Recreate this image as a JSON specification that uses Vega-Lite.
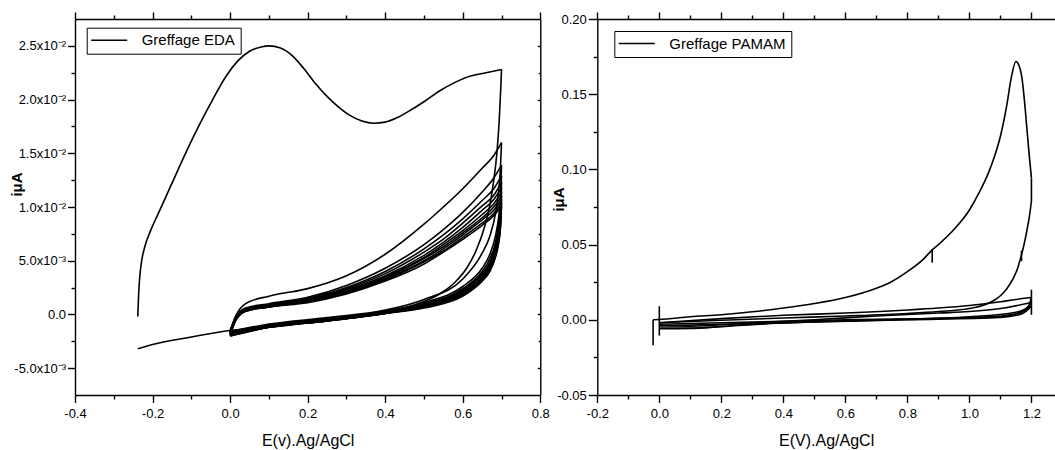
{
"$schema": "https://vega.github.io/schema/vega-lite/v6.json",
"autosize": {"type": "none"},
"width": 980, "height": 376,
"padding": {"left": 75, "top": 19, "right": 0, "bottom": 55},
"config": {
 "view": {"stroke": null},
 "font": "Liberation Sans",
 "axis": {"grid": false, "domainColor": "black", "domainWidth": 1.4, "tickColor": "black", "tickWidth": 1.4, "labelColor": "black", "labelFont": "Liberation Sans", "labelFontSize": 13, "labelPadding": 2, "titleColor": "black", "titleFont": "Liberation Sans", "titleFontSize": 16, "titleFontWeight": "normal", "labelFlush": false, "labelOverlap": false}
},
"datasets": {
"eda": [
{"s":"a1f","x":-0.238,"y":-0.0002},{"s":"a1f","x":-0.236,"y":0.0018},{"s":"a1f","x":-0.233,"y":0.0035},{"s":"a1f","x":-0.228,"y":0.0050},{"s":"a1f","x":-0.22,"y":0.0063},{"s":"a1f","x":-0.205,"y":0.0078},{"s":"a1f","x":-0.18,"y":0.0098},{"s":"a1f","x":-0.15,"y":0.0122},{"s":"a1f","x":-0.115,"y":0.0150},{"s":"a1f","x":-0.08,"y":0.0176},{"s":"a1f","x":-0.045,"y":0.0200},{"s":"a1f","x":-0.01,"y":0.0222},{"s":"a1f","x":0.02,"y":0.0236},{"s":"a1f","x":0.05,"y":0.0245},{"s":"a1f","x":0.08,"y":0.0249},{"s":"a1f","x":0.1,"y":0.0250},{"s":"a1f","x":0.13,"y":0.0248},{"s":"a1f","x":0.16,"y":0.0241},{"s":"a1f","x":0.19,"y":0.0229},{"s":"a1f","x":0.22,"y":0.0215},{"s":"a1f","x":0.25,"y":0.0203},{"s":"a1f","x":0.28,"y":0.0193},{"s":"a1f","x":0.31,"y":0.0185},{"s":"a1f","x":0.34,"y":0.0180},{"s":"a1f","x":0.37,"y":0.0178},{"s":"a1f","x":0.4,"y":0.0179},{"s":"a1f","x":0.43,"y":0.0183},{"s":"a1f","x":0.46,"y":0.0189},{"s":"a1f","x":0.5,"y":0.0198},{"s":"a1f","x":0.54,"y":0.0208},{"s":"a1f","x":0.58,"y":0.0216},{"s":"a1f","x":0.62,"y":0.0222},{"s":"a1f","x":0.66,"y":0.0225},{"s":"a1f","x":0.7,"y":0.0228},
{"s":"a1r","x":0.7,"y":0.0228},{"s":"a1r","x":0.698,"y":0.0210},{"s":"a1r","x":0.694,"y":0.0180},{"s":"a1r","x":0.688,"y":0.0150},{"s":"a1r","x":0.68,"y":0.0125},{"s":"a1r","x":0.67,"y":0.0102},{"s":"a1r","x":0.655,"y":0.0080},{"s":"a1r","x":0.635,"y":0.0060},{"s":"a1r","x":0.61,"y":0.0043},{"s":"a1r","x":0.58,"y":0.0030},{"s":"a1r","x":0.54,"y":0.0019},{"s":"a1r","x":0.5,"y":0.0012},{"s":"a1r","x":0.45,"y":0.0006},{"s":"a1r","x":0.4,"y":0.0002},{"s":"a1r","x":0.3,"y":-0.0004},{"s":"a1r","x":0.2,"y":-0.0008},{"s":"a1r","x":0.1,"y":-0.0012},{"s":"a1r","x":0.0,"y":-0.0015},{"s":"a1r","x":-0.1,"y":-0.0021},{"s":"a1r","x":-0.2,"y":-0.0028},{"s":"a1r","x":-0.238,"y":-0.0032},
{"s":"a2f","x":0,"y":-0.0015},{"s":"a2f","x":0.015,"y":-0.0001},{"s":"a2f","x":0.04,"y":0.0010},{"s":"a2f","x":0.1,"y":0.0017},{"s":"a2f","x":0.2,"y":0.0024},{"s":"a2f","x":0.3,"y":0.0036},{"s":"a2f","x":0.4,"y":0.0056},{"s":"a2f","x":0.5,"y":0.0084},{"s":"a2f","x":0.55,"y":0.0100},{"s":"a2f","x":0.6,"y":0.0117},{"s":"a2f","x":0.65,"y":0.0136},{"s":"a2f","x":0.68,"y":0.0148},{"s":"a2f","x":0.7,"y":0.0160},
{"s":"a3f","x":0,"y":-0.0016},{"s":"a3f","x":0.015,"y":-0.0002},{"s":"a3f","x":0.04,"y":0.0006},{"s":"a3f","x":0.1,"y":0.0010},{"s":"a3f","x":0.2,"y":0.0016},{"s":"a3f","x":0.3,"y":0.0027},{"s":"a3f","x":0.4,"y":0.0043},{"s":"a3f","x":0.5,"y":0.0065},{"s":"a3f","x":0.55,"y":0.0079},{"s":"a3f","x":0.6,"y":0.0095},{"s":"a3f","x":0.65,"y":0.0114},{"s":"a3f","x":0.68,"y":0.0127},{"s":"a3f","x":0.7,"y":0.0139},
{"s":"a4f","x":0,"y":-0.0016},{"s":"a4f","x":0.015,"y":-0.0003},{"s":"a4f","x":0.04,"y":0.0005},{"s":"a4f","x":0.1,"y":0.0009},{"s":"a4f","x":0.2,"y":0.0015},{"s":"a4f","x":0.3,"y":0.0025},{"s":"a4f","x":0.4,"y":0.0040},{"s":"a4f","x":0.5,"y":0.0061},{"s":"a4f","x":0.55,"y":0.0074},{"s":"a4f","x":0.6,"y":0.0089},{"s":"a4f","x":0.65,"y":0.0106},{"s":"a4f","x":0.68,"y":0.0117},{"s":"a4f","x":0.7,"y":0.0129},
{"s":"a5f","x":0,"y":-0.0017},{"s":"a5f","x":0.015,"y":-0.0003},{"s":"a5f","x":0.04,"y":0.0005},{"s":"a5f","x":0.1,"y":0.0009},{"s":"a5f","x":0.2,"y":0.0014},{"s":"a5f","x":0.3,"y":0.0024},{"s":"a5f","x":0.4,"y":0.0038},{"s":"a5f","x":0.5,"y":0.0058},{"s":"a5f","x":0.55,"y":0.0070},{"s":"a5f","x":0.6,"y":0.0085},{"s":"a5f","x":0.65,"y":0.0101},{"s":"a5f","x":0.68,"y":0.0111},{"s":"a5f","x":0.7,"y":0.0123},
{"s":"a6f","x":0,"y":-0.0017},{"s":"a6f","x":0.015,"y":-0.0004},{"s":"a6f","x":0.04,"y":0.0004},{"s":"a6f","x":0.1,"y":0.0008},{"s":"a6f","x":0.2,"y":0.0014},{"s":"a6f","x":0.3,"y":0.0023},{"s":"a6f","x":0.4,"y":0.0036},{"s":"a6f","x":0.5,"y":0.0055},{"s":"a6f","x":0.55,"y":0.0067},{"s":"a6f","x":0.6,"y":0.0081},{"s":"a6f","x":0.65,"y":0.0097},{"s":"a6f","x":0.68,"y":0.0107},{"s":"a6f","x":0.7,"y":0.0118},
{"s":"a7f","x":0,"y":-0.0018},{"s":"a7f","x":0.015,"y":-0.0004},{"s":"a7f","x":0.04,"y":0.0004},{"s":"a7f","x":0.1,"y":0.0008},{"s":"a7f","x":0.2,"y":0.0013},{"s":"a7f","x":0.3,"y":0.0022},{"s":"a7f","x":0.4,"y":0.0035},{"s":"a7f","x":0.5,"y":0.0053},{"s":"a7f","x":0.55,"y":0.0065},{"s":"a7f","x":0.6,"y":0.0078},{"s":"a7f","x":0.65,"y":0.0093},{"s":"a7f","x":0.68,"y":0.0103},{"s":"a7f","x":0.7,"y":0.0114},
{"s":"a8f","x":0,"y":-0.0018},{"s":"a8f","x":0.015,"y":-0.0004},{"s":"a8f","x":0.04,"y":0.0004},{"s":"a8f","x":0.1,"y":0.0008},{"s":"a8f","x":0.2,"y":0.0013},{"s":"a8f","x":0.3,"y":0.0021},{"s":"a8f","x":0.4,"y":0.0034},{"s":"a8f","x":0.5,"y":0.0052},{"s":"a8f","x":0.55,"y":0.0063},{"s":"a8f","x":0.6,"y":0.0076},{"s":"a8f","x":0.65,"y":0.0090},{"s":"a8f","x":0.68,"y":0.0100},{"s":"a8f","x":0.7,"y":0.0110},
{"s":"a9f","x":0,"y":-0.0019},{"s":"a9f","x":0.015,"y":-0.0005},{"s":"a9f","x":0.04,"y":0.0003},{"s":"a9f","x":0.1,"y":0.0007},{"s":"a9f","x":0.2,"y":0.0012},{"s":"a9f","x":0.3,"y":0.0020},{"s":"a9f","x":0.4,"y":0.0033},{"s":"a9f","x":0.5,"y":0.0050},{"s":"a9f","x":0.55,"y":0.0061},{"s":"a9f","x":0.6,"y":0.0074},{"s":"a9f","x":0.65,"y":0.0088},{"s":"a9f","x":0.68,"y":0.0097},{"s":"a9f","x":0.7,"y":0.0107},
{"s":"a10f","x":0,"y":-0.0019},{"s":"a10f","x":0.015,"y":-0.0005},{"s":"a10f","x":0.04,"y":0.0003},{"s":"a10f","x":0.1,"y":0.0007},{"s":"a10f","x":0.2,"y":0.0012},{"s":"a10f","x":0.3,"y":0.0020},{"s":"a10f","x":0.4,"y":0.0032},{"s":"a10f","x":0.5,"y":0.0049},{"s":"a10f","x":0.55,"y":0.0059},{"s":"a10f","x":0.6,"y":0.0072},{"s":"a10f","x":0.65,"y":0.0085},{"s":"a10f","x":0.68,"y":0.0094},{"s":"a10f","x":0.7,"y":0.0104},
{"s":"a11f","x":0,"y":-0.0020},{"s":"a11f","x":0.015,"y":-0.0005},{"s":"a11f","x":0.04,"y":0.0003},{"s":"a11f","x":0.1,"y":0.0007},{"s":"a11f","x":0.2,"y":0.0011},{"s":"a11f","x":0.3,"y":0.0019},{"s":"a11f","x":0.4,"y":0.0031},{"s":"a11f","x":0.5,"y":0.0047},{"s":"a11f","x":0.55,"y":0.0058},{"s":"a11f","x":0.6,"y":0.0070},{"s":"a11f","x":0.65,"y":0.0083},{"s":"a11f","x":0.68,"y":0.0092},{"s":"a11f","x":0.7,"y":0.0101},
{"s":"a2r","x":0.7,"y":0.0160},{"s":"a2r","x":0.697,"y":0.0135},{"s":"a2r","x":0.692,"y":0.0113},{"s":"a2r","x":0.685,"y":0.0095},{"s":"a2r","x":0.67,"y":0.0073},{"s":"a2r","x":0.65,"y":0.0057},{"s":"a2r","x":0.6,"y":0.0033},{"s":"a2r","x":0.5,"y":0.0014},{"s":"a2r","x":0.4,"y":0.0004},{"s":"a2r","x":0.25,"y":-0.0003},{"s":"a2r","x":0.1,"y":-0.0009},{"s":"a2r","x":0,"y":-0.0016},
{"s":"a3r","x":0.7,"y":0.0139},{"s":"a3r","x":0.697,"y":0.0108},{"s":"a3r","x":0.692,"y":0.0089},{"s":"a3r","x":0.685,"y":0.0074},{"s":"a3r","x":0.67,"y":0.0056},{"s":"a3r","x":0.65,"y":0.0043},{"s":"a3r","x":0.6,"y":0.0026},{"s":"a3r","x":0.5,"y":0.0011},{"s":"a3r","x":0.4,"y":0.0003},{"s":"a3r","x":0.25,"y":-0.0004},{"s":"a3r","x":0.1,"y":-0.0010},{"s":"a3r","x":0,"y":-0.0017},
{"s":"a4r","x":0.7,"y":0.0129},{"s":"a4r","x":0.697,"y":0.0101},{"s":"a4r","x":0.692,"y":0.0083},{"s":"a4r","x":0.685,"y":0.0068},{"s":"a4r","x":0.67,"y":0.0052},{"s":"a4r","x":0.65,"y":0.0040},{"s":"a4r","x":0.6,"y":0.0024},{"s":"a4r","x":0.5,"y":0.0010},{"s":"a4r","x":0.4,"y":0.0003},{"s":"a4r","x":0.25,"y":-0.0004},{"s":"a4r","x":0.1,"y":-0.0010},{"s":"a4r","x":0,"y":-0.0017},
{"s":"a5r","x":0.7,"y":0.0123},{"s":"a5r","x":0.697,"y":0.0096},{"s":"a5r","x":0.692,"y":0.0079},{"s":"a5r","x":0.685,"y":0.0065},{"s":"a5r","x":0.67,"y":0.0049},{"s":"a5r","x":0.65,"y":0.0038},{"s":"a5r","x":0.6,"y":0.0023},{"s":"a5r","x":0.5,"y":0.0009},{"s":"a5r","x":0.4,"y":0.0002},{"s":"a5r","x":0.25,"y":-0.0005},{"s":"a5r","x":0.1,"y":-0.0011},{"s":"a5r","x":0,"y":-0.0018},
{"s":"a6r","x":0.7,"y":0.0118},{"s":"a6r","x":0.697,"y":0.0092},{"s":"a6r","x":0.692,"y":0.0076},{"s":"a6r","x":0.685,"y":0.0063},{"s":"a6r","x":0.67,"y":0.0047},{"s":"a6r","x":0.65,"y":0.0037},{"s":"a6r","x":0.6,"y":0.0022},{"s":"a6r","x":0.5,"y":0.0009},{"s":"a6r","x":0.4,"y":0.0002},{"s":"a6r","x":0.25,"y":-0.0005},{"s":"a6r","x":0.1,"y":-0.0011},{"s":"a6r","x":0,"y":-0.0018},
{"s":"a7r","x":0.7,"y":0.0114},{"s":"a7r","x":0.697,"y":0.0089},{"s":"a7r","x":0.692,"y":0.0073},{"s":"a7r","x":0.685,"y":0.0060},{"s":"a7r","x":0.67,"y":0.0046},{"s":"a7r","x":0.65,"y":0.0035},{"s":"a7r","x":0.6,"y":0.0021},{"s":"a7r","x":0.5,"y":0.0008},{"s":"a7r","x":0.4,"y":0.0002},{"s":"a7r","x":0.25,"y":-0.0005},{"s":"a7r","x":0.1,"y":-0.0011},{"s":"a7r","x":0,"y":-0.0019},
{"s":"a8r","x":0.7,"y":0.0110},{"s":"a8r","x":0.697,"y":0.0086},{"s":"a8r","x":0.692,"y":0.0070},{"s":"a8r","x":0.685,"y":0.0058},{"s":"a8r","x":0.67,"y":0.0044},{"s":"a8r","x":0.65,"y":0.0034},{"s":"a8r","x":0.6,"y":0.0020},{"s":"a8r","x":0.5,"y":0.0008},{"s":"a8r","x":0.4,"y":0.0001},{"s":"a8r","x":0.25,"y":-0.0006},{"s":"a8r","x":0.1,"y":-0.0012},{"s":"a8r","x":0,"y":-0.0019},
{"s":"a9r","x":0.7,"y":0.0107},{"s":"a9r","x":0.697,"y":0.0083},{"s":"a9r","x":0.692,"y":0.0068},{"s":"a9r","x":0.685,"y":0.0057},{"s":"a9r","x":0.67,"y":0.0043},{"s":"a9r","x":0.65,"y":0.0033},{"s":"a9r","x":0.6,"y":0.0019},{"s":"a9r","x":0.5,"y":0.0007},{"s":"a9r","x":0.4,"y":0.0001},{"s":"a9r","x":0.25,"y":-0.0006},{"s":"a9r","x":0.1,"y":-0.0012},{"s":"a9r","x":0,"y":-0.0019},
{"s":"a10r","x":0.7,"y":0.0104},{"s":"a10r","x":0.697,"y":0.0081},{"s":"a10r","x":0.692,"y":0.0067},{"s":"a10r","x":0.685,"y":0.0055},{"s":"a10r","x":0.67,"y":0.0042},{"s":"a10r","x":0.65,"y":0.0032},{"s":"a10r","x":0.6,"y":0.0018},{"s":"a10r","x":0.5,"y":0.0007},{"s":"a10r","x":0.4,"y":0.0001},{"s":"a10r","x":0.25,"y":-0.0006},{"s":"a10r","x":0.1,"y":-0.0012},{"s":"a10r","x":0,"y":-0.0020},
{"s":"a11r","x":0.7,"y":0.0101},{"s":"a11r","x":0.697,"y":0.0079},{"s":"a11r","x":0.692,"y":0.0065},{"s":"a11r","x":0.685,"y":0.0054},{"s":"a11r","x":0.67,"y":0.0040},{"s":"a11r","x":0.65,"y":0.0031},{"s":"a11r","x":0.6,"y":0.0017},{"s":"a11r","x":0.5,"y":0.0006},{"s":"a11r","x":0.4,"y":0.0001},{"s":"a11r","x":0.25,"y":-0.0006},{"s":"a11r","x":0.1,"y":-0.0012},{"s":"a11r","x":0,"y":-0.0020}
],
"pam": [
{"s":"b1f","x":-0.02,"y":0.0},{"s":"b1f","x":0,"y":0.0002},{"s":"b1f","x":0.1,"y":0.002},{"s":"b1f","x":0.2,"y":0.0034},{"s":"b1f","x":0.3,"y":0.0053},{"s":"b1f","x":0.4,"y":0.0078},{"s":"b1f","x":0.5,"y":0.0108},{"s":"b1f","x":0.6,"y":0.0148},{"s":"b1f","x":0.7,"y":0.021},{"s":"b1f","x":0.75,"y":0.0255},{"s":"b1f","x":0.8,"y":0.032},{"s":"b1f","x":0.85,"y":0.040},{"s":"b1f","x":0.88,"y":0.0465},{"s":"b1f","x":0.9,"y":0.050},{"s":"b1f","x":0.95,"y":0.060},{"s":"b1f","x":1.0,"y":0.073},{"s":"b1f","x":1.03,"y":0.084},{"s":"b1f","x":1.06,"y":0.097},{"s":"b1f","x":1.08,"y":0.108},{"s":"b1f","x":1.1,"y":0.122},{"s":"b1f","x":1.12,"y":0.142},{"s":"b1f","x":1.135,"y":0.161},{"s":"b1f","x":1.15,"y":0.1717},{"s":"b1f","x":1.16,"y":0.169},{"s":"b1f","x":1.17,"y":0.16},{"s":"b1f","x":1.18,"y":0.14},{"s":"b1f","x":1.19,"y":0.116},{"s":"b1f","x":1.2,"y":0.094},
{"s":"b1r","x":0,"y":-0.002},{"s":"b1r","x":0.2,"y":-0.0003},{"s":"b1r","x":0.4,"y":0.0012},{"s":"b1r","x":0.6,"y":0.0025},{"s":"b1r","x":0.8,"y":0.0042},{"s":"b1r","x":0.9,"y":0.0055},{"s":"b1r","x":1.0,"y":0.0075},{"s":"b1r","x":1.05,"y":0.010},{"s":"b1r","x":1.08,"y":0.013},{"s":"b1r","x":1.1,"y":0.016},{"s":"b1r","x":1.12,"y":0.0205},{"s":"b1r","x":1.14,"y":0.027},{"s":"b1r","x":1.155,"y":0.034},{"s":"b1r","x":1.165,"y":0.041},{"s":"b1r","x":1.175,"y":0.049},{"s":"b1r","x":1.185,"y":0.059},{"s":"b1r","x":1.195,"y":0.071},{"s":"b1r","x":1.2,"y":0.079},
{"s":"b2f","x":0,"y":-0.002},{"s":"b2f","x":0.2,"y":0.0008},{"s":"b2f","x":0.4,"y":0.003},{"s":"b2f","x":0.6,"y":0.0045},{"s":"b2f","x":0.8,"y":0.0065},{"s":"b2f","x":0.9,"y":0.0078},{"s":"b2f","x":1.0,"y":0.0095},{"s":"b2f","x":1.1,"y":0.012},{"s":"b2f","x":1.15,"y":0.0135},{"s":"b2f","x":1.2,"y":0.0148},
{"s":"b2r","x":0,"y":-0.003},{"s":"b2r","x":0.2,"y":-0.002},{"s":"b2r","x":0.4,"y":-0.001},{"s":"b2r","x":0.6,"y":0.0},{"s":"b2r","x":0.8,"y":0.0005},{"s":"b2r","x":1.0,"y":0.0015},{"s":"b2r","x":1.1,"y":0.0025},{"s":"b2r","x":1.15,"y":0.004},{"s":"b2r","x":1.19,"y":0.009},{"s":"b2r","x":1.2,"y":0.0148},
{"s":"b3f","x":0,"y":-0.004},{"s":"b3f","x":0.1,"y":-0.0042},{"s":"b3f","x":0.3,"y":-0.002},{"s":"b3f","x":0.5,"y":0.0},{"s":"b3f","x":0.7,"y":0.0025},{"s":"b3f","x":0.9,"y":0.0045},{"s":"b3f","x":1.0,"y":0.0055},{"s":"b3f","x":1.1,"y":0.0075},{"s":"b3f","x":1.2,"y":0.0115},
{"s":"b3r","x":0,"y":-0.0055},{"s":"b3r","x":0.1,"y":-0.0055},{"s":"b3r","x":0.3,"y":-0.003},{"s":"b3r","x":0.6,"y":-0.0008},{"s":"b3r","x":0.9,"y":0.0008},{"s":"b3r","x":1.1,"y":0.002},{"s":"b3r","x":1.18,"y":0.006},{"s":"b3r","x":1.2,"y":0.0115},
{"s":"b4f","x":0,"y":-0.006},{"s":"b4f","x":0.1,"y":-0.0058},{"s":"b4f","x":0.2,"y":-0.0045},{"s":"b4f","x":0.4,"y":-0.002},{"s":"b4f","x":0.7,"y":0.0},{"s":"b4f","x":1.0,"y":0.002},{"s":"b4f","x":1.15,"y":0.005},{"s":"b4f","x":1.2,"y":0.009},
{"s":"b4r","x":0,"y":-0.004},{"s":"b4r","x":0.2,"y":-0.003},{"s":"b4r","x":0.5,"y":-0.0015},{"s":"b4r","x":0.8,"y":0.0},{"s":"b4r","x":1.1,"y":0.0015},{"s":"b4r","x":1.17,"y":0.004},{"s":"b4r","x":1.2,"y":0.009},
{"s":"g1","x":1.2,"y":0.094},{"s":"g1","x":1.2,"y":0.079},
{"s":"g2","x":0.88,"y":0.047},{"s":"g2","x":0.88,"y":0.038},
{"s":"g3","x":1.168,"y":0.046},{"s":"g3","x":1.168,"y":0.039},
{"s":"g4","x":0,"y":0.009},{"s":"g4","x":0,"y":-0.0105},
{"s":"g5","x":-0.02,"y":0.0},{"s":"g5","x":-0.02,"y":-0.017},
{"s":"g6","x":1.2,"y":0.020},{"s":"g6","x":1.2,"y":0.0033}
]
},
"layer": [
{
 "data": {"name": "eda"},
 "mark": {"type": "line", "interpolate": "monotone", "strokeWidth": 1.6},
 "encoding": {
  "x": {"field": "x", "type": "quantitative", "scale": {"domain": [-0.4, 0.8], "range": [0, 465.3], "nice": false, "zero": false},
        "axis": {"orient": "bottom", "values": [-0.4, -0.2, 0, 0.2, 0.4, 0.6, 0.8], "labelExpr": "datum.value < 0 ? '-' + format(-datum.value, '.1f') : format(datum.value, '.1f')", "tickSize": 7.5, "labelPadding": 5, "title": "E(v).Ag/AgCl", "titlePadding": 12}},
  "y": {"field": "y", "type": "quantitative", "scale": {"domain": [-0.0075, 0.0275], "nice": false, "zero": false},
        "axis": {"orient": "left", "values": [-0.005, 0, 0.005, 0.01, 0.015, 0.02, 0.025], "labelExpr": "round(datum.value*10000)==250 ? '2.5x10⁻²' : round(datum.value*10000)==200 ? '2.0x10⁻²' : round(datum.value*10000)==150 ? '1.5x10⁻²' : round(datum.value*10000)==100 ? '1.0x10⁻²' : round(datum.value*10000)==50 ? '5.0x10⁻³' : round(datum.value*10000)==0 ? '0.0' : '-5.0x10⁻³'", "tickSize": 7.5, "labelPadding": 2, "title": "iμA", "titleFontWeight": "bold", "titleFontSize": 15, "titleX": -54, "titleY": 165, "titleBaseline": "alphabetic", "titleAngle": -90}},
  "detail": {"field": "s"},
  "color": {"datum": "Greffage EDA", "scale": {"range": ["black"]},
            "legend": {"title": null, "orient": "none", "legendX": 11.7, "legendY": 8.7, "symbolType": "M-3,0H3", "symbolSize": 144, "symbolStrokeWidth": 1.6, "symbolOffset": 10, "labelOffset": 25, "labelFontSize": 15, "labelFont": "Liberation Sans", "labelColor": "black", "strokeColor": "black", "fillColor": "white", "padding": 5, "cornerRadius": 0}}
 }
},
{
 "data": {"name": "eda"},
 "mark": {"type": "point", "opacity": 0},
 "encoding": {
  "x": {"field": "x", "type": "quantitative", "scale": {"domain": [-0.4, 0.8], "range": [0, 465.3], "nice": false, "zero": false},
        "axis": {"orient": "bottom", "values": [-0.3, -0.1, 0.1, 0.3, 0.5, 0.7], "labels": false, "domain": false, "tickSize": 4, "title": null}},
  "y": {"field": "y", "type": "quantitative", "scale": {"domain": [-0.0075, 0.0275], "nice": false, "zero": false},
        "axis": {"orient": "left", "values": [-0.0025, 0.0025, 0.0075, 0.0125, 0.0175, 0.0225], "labels": false, "domain": false, "tickSize": 4, "title": null}}
 }
},
{
 "data": {"name": "eda"},
 "mark": {"type": "point", "opacity": 0},
 "encoding": {
  "x": {"field": "x", "type": "quantitative", "scale": {"domain": [-0.4, 0.8], "range": [0, 465.3], "nice": false, "zero": false},
        "axis": {"orient": "top", "values": [-0.4, -0.2, 0, 0.2, 0.4, 0.6, 0.8], "labels": false, "domain": true, "tickSize": 7, "title": null}},
  "y": {"field": "y", "type": "quantitative", "scale": {"domain": [-0.0075, 0.0275], "nice": false, "zero": false},
        "axis": {"orient": "right", "offset": -514.7, "values": [-0.005, 0, 0.005, 0.01, 0.015, 0.02, 0.025], "labels": false, "domain": true, "tickSize": -3, "title": null}}
 }
},
{
 "data": {"name": "eda"},
 "mark": {"type": "point", "opacity": 0},
 "encoding": {
  "x": {"field": "x", "type": "quantitative", "scale": {"domain": [-0.4, 0.8], "range": [0, 465.3], "nice": false, "zero": false},
        "axis": {"orient": "top", "values": [-0.3, -0.1, 0.1, 0.3, 0.5, 0.7], "labels": false, "domain": false, "tickSize": 4, "title": null}},
  "y": {"field": "y", "type": "quantitative", "scale": {"domain": [-0.0075, 0.0275], "nice": false, "zero": false},
        "axis": {"orient": "right", "offset": -514.7, "values": [-0.0025, 0.0025, 0.0075, 0.0125, 0.0175, 0.0225], "labels": false, "domain": false, "tickSize": -2, "title": null}}
 }
},
{
 "data": {"name": "pam"},
 "mark": {"type": "line", "interpolate": "monotone", "strokeWidth": 1.6},
 "encoding": {
  "x": {"field": "x", "type": "quantitative", "scale": {"domain": [-0.2, 1.276], "range": [522.3, 980], "nice": false, "zero": false},
        "axis": {"orient": "bottom", "values": [-0.2, 0, 0.2, 0.4, 0.6, 0.8, 1.0, 1.2], "labelExpr": "datum.value < 0 ? '-' + format(-datum.value, '.1f') : format(datum.value, '.1f')", "tickSize": 7.5, "labelPadding": 5, "title": "E(V).Ag/AgCl", "titlePadding": 12}},
  "y": {"field": "y", "type": "quantitative", "scale": {"domain": [-0.05, 0.2], "nice": false, "zero": false},
        "axis": {"orient": "left", "offset": -522.3, "values": [-0.05, 0, 0.05, 0.1, 0.15, 0.2], "labelExpr": "datum.value < 0 ? '-' + format(-datum.value, '.2f') : format(datum.value, '.2f')", "tickSize": 9, "labelPadding": 2, "title": "iμA", "titleFontWeight": "bold", "titleFontSize": 15, "titleX": -34, "titleY": 180, "titleBaseline": "alphabetic", "titleAngle": -90}},
  "detail": {"field": "s"},
  "color": {"datum": "Greffage PAMAM", "scale": {"range": ["black"]},
            "legend": {"title": null, "orient": "none", "legendX": 539.3, "legendY": 12, "symbolType": "M-3,0H3", "symbolSize": 144, "symbolStrokeWidth": 1.6, "symbolOffset": 10, "labelOffset": 25, "labelFontSize": 15, "labelFont": "Liberation Sans", "labelColor": "black", "strokeColor": "black", "fillColor": "white", "padding": 5, "cornerRadius": 0}}
 }
},
{
 "data": {"name": "pam"},
 "mark": {"type": "point", "opacity": 0},
 "encoding": {
  "x": {"field": "x", "type": "quantitative", "scale": {"domain": [-0.2, 1.276], "range": [522.3, 980], "nice": false, "zero": false},
        "axis": {"orient": "bottom", "values": [-0.1, 0.1, 0.3, 0.5, 0.7, 0.9, 1.1], "labels": false, "domain": false, "tickSize": 4, "title": null}},
  "y": {"field": "y", "type": "quantitative", "scale": {"domain": [-0.05, 0.2], "nice": false, "zero": false},
        "axis": {"orient": "left", "offset": -522.3, "values": [-0.025, 0.025, 0.075, 0.125, 0.175], "labels": false, "domain": false, "tickSize": 4, "title": null}}
 }
},
{
 "data": {"name": "pam"},
 "mark": {"type": "point", "opacity": 0},
 "encoding": {
  "x": {"field": "x", "type": "quantitative", "scale": {"domain": [-0.2, 1.276], "range": [522.3, 980], "nice": false, "zero": false},
        "axis": {"orient": "top", "values": [-0.2, 0, 0.2, 0.4, 0.6, 0.8, 1.0, 1.2], "labels": false, "domain": true, "tickSize": 7, "title": null}},
  "y": {"field": "y", "type": "quantitative", "scale": {"domain": [-0.05, 0.2], "nice": false, "zero": false}, "axis": null}
 }
},
{
 "data": {"name": "pam"},
 "mark": {"type": "point", "opacity": 0},
 "encoding": {
  "x": {"field": "x", "type": "quantitative", "scale": {"domain": [-0.2, 1.276], "range": [522.3, 980], "nice": false, "zero": false},
        "axis": {"orient": "top", "values": [-0.1, 0.1, 0.3, 0.5, 0.7, 0.9, 1.1], "labels": false, "domain": false, "tickSize": 4, "title": null}},
  "y": {"field": "y", "type": "quantitative", "scale": {"domain": [-0.05, 0.2], "nice": false, "zero": false}, "axis": null}
 }
}
],
"resolve": {
 "scale": {"x": "independent", "y": "independent", "color": "independent"},
 "axis": {"x": "independent", "y": "independent"},
 "legend": {"color": "independent"}
}
}
